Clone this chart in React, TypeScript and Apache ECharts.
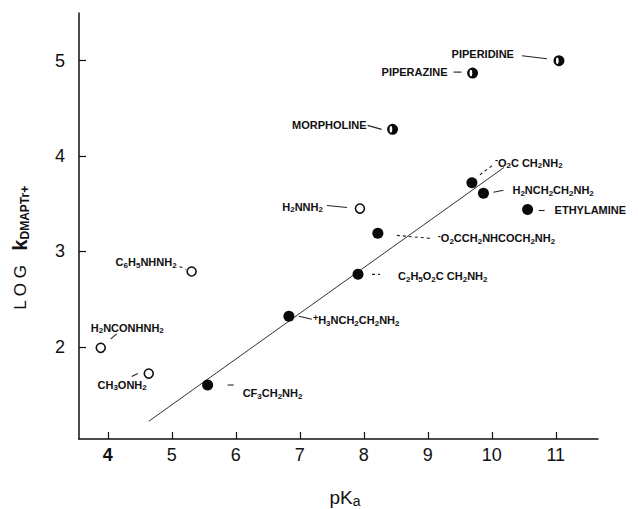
import React, { useEffect, useRef } from "react";
import * as echarts from "echarts";

// pKa of the amine / hydrazine
const pKa = [11.05, 9.7, 8.45, 9.69, 9.87, 10.56, 7.94, 8.22, 7.91, 6.83, 5.56, 5.31, 3.89, 4.64];
// log k(DMAPTr+)
const logK = [5.0, 4.87, 4.28, 3.72, 3.61, 3.44, 3.45, 3.19, 2.76, 2.32, 1.6, 2.79, 1.99, 1.72];
// marker kind: "half" secondary amines, "filled" primary amines, "open" alpha-effect nucleophiles
const kinds = ["half", "half", "half", "filled", "filled", "filled", "open", "filled", "filled", "filled", "filled", "open", "open", "open"];
const names = [
  "PIPERIDINE",
  "PIPERAZINE",
  "MORPHOLINE",
  "{sup|-}O{s|2}C CH{s|2}NH{s|2}",
  "H{s|2}NCH{s|2}CH{s|2}NH{s|2}",
  "ETHYLAMINE",
  "H{s|2}NNH{s|2}",
  "{sup|-}O{s|2}CCH{s|2}NHCOCH{s|2}NH{s|2}",
  "C{s|2}H{s|5}O{s|2}C CH{s|2}NH{s|2}",
  "{sup|+}H{s|3}NCH{s|2}CH{s|2}NH{s|2}",
  "CF{s|3}CH{s|2}NH{s|2}",
  "C{s|6}H{s|5}NHNH{s|2}",
  "H{s|2}NCONHNH{s|2}",
  "CH{s|3}ONH{s|2}",
];
// correlation line (amines)
const fitX = [4.64, 10.19];
const fitY = [1.22, 3.88];
// axis ticks
const xTicks = [4, 5, 6, 7, 8, 9, 10, 11];
const yTicks = [2, 3, 4, 5];

// label placement relative to the marker (pixels)
const labelDx = [-45, -25, -26, 23, 29, 27, -37, 60, 40, 24, 35, -15, -10, -2];
const labelDy = [-7, -1, -4, -20, -3, 1, -2, 5, 2, 4, 8, -9, -20, 11];
const labelAlign = ["right", "right", "right", "left", "left", "left", "right", "left", "left", "left", "left", "right", "left", "right"];
// leader segments relative to the marker (pixels): [x1, y1, x2, y2]
const leaders = [
  [-37, -5, -12, -2],
  [-19, -1, -11, -1],
  [-25, -4, -11, 0],
  [8, -8, 20, -17],
  [10, -1, 20, -3],
  [11, 1, 17, 1],
  [-33, -3, -13, -1],
  [19, 2, 52, 5],
  [14, 0, 22, 0],
  [10, 0, 23, 3],
  [20, 0, 26, 0],
  [-12, -5, -6, -2],
  [10, -9, 16, -14],
  [-17, 3, -11, 0],
];
const leaderDashed = [false, false, false, true, false, false, false, true, true, false, false, true, false, false];

const HALF =
  "path://M10 0A10 10 0 1 1 10 20A10 10 0 1 1 10 0ZM7 4A2.4 6 0 1 0 7 16A2.4 6 0 1 0 7 4Z";
const FONT = "Liberation Sans, Arial, sans-serif";

export default function App() {
  const ref = useRef<HTMLDivElement>(null);
  useEffect(() => {
    if (!ref.current) return;
    const chart = echarts.init(ref.current, null, { renderer: "svg" });
    const data = pKa.map((x, i) => {
      const k = kinds[i];
      return {
        value: [x, logK[i]],
        name: names[i],
        symbol: k === "half" ? HALF : "circle",
        symbolSize: k === "open" ? 9 : 11,
        itemStyle:
          k === "open"
            ? { color: "#fff", borderColor: "#111", borderWidth: 1.6, opacity: 1 }
            : { color: "#0a0a0a", borderWidth: 0, opacity: 1 },
      };
    });
    chart.setOption({
      animation: false,
      backgroundColor: "#fff",
      grid: { left: 79, right: 40, top: 13, bottom: 70 },
      xAxis: {
        type: "value",
        min: 3.55,
        max: 11.66,
        axisLine: { show: true, onZero: false, lineStyle: { color: "#111", width: 1.5 } },
        axisTick: { show: true, inside: true, length: 7, customValues: xTicks, lineStyle: { color: "#111", width: 1.2 } },
        axisLabel: {
          customValues: xTicks,
          margin: 7,
          fontSize: 18,
          color: "#111",
          fontFamily: FONT,
          formatter: (v: number) => (v === 4 ? "{b|4}" : String(v)),
          rich: { b: { fontSize: 18, fontWeight: "bold", color: "#111", fontFamily: FONT } },
        },
        splitLine: { show: false },
      },
      yAxis: {
        type: "value",
        min: 1.034,
        max: 5.5,
        axisLine: { show: true, onZero: false, lineStyle: { color: "#111", width: 1.5 } },
        axisTick: { show: true, inside: true, length: 7, customValues: yTicks, lineStyle: { color: "#111", width: 1.2 } },
        axisLabel: {
          customValues: yTicks,
          margin: 14,
          fontSize: 18,
          color: "#111",
          fontFamily: FONT,
        },
        splitLine: { show: false },
      },
      series: [
        {
          type: "line",
          data: fitX.map((x, i) => [x, fitY[i]]),
          symbol: "none",
          lineStyle: { color: "#333", width: 1 },
          z: 1,
          silent: true,
        },
        {
          type: "custom",
          data: pKa.map((x, i) => [x, logK[i]]),
          silent: true,
          z: 2,
          renderItem: (params: any, api: any) => {
            const i = params.dataIndex;
            const c = api.coord([api.value(0), api.value(1)]);
            const l = leaders[i];
            return {
              type: "line",
              shape: { x1: c[0] + l[0], y1: c[1] + l[1], x2: c[0] + l[2], y2: c[1] + l[3] },
              style: { stroke: "#222", lineWidth: 1.1, lineDash: leaderDashed[i] ? [3, 3] : null },
            };
          },
        },
        {
          type: "scatter",
          data,
          z: 3,
          label: {
            show: true,
            formatter: (p: any) => p.name,
            fontSize: 11,
            fontWeight: "bold",
            color: "#111",
            lineHeight: 14,
            fontFamily: FONT,
            rich: {
              s: { fontSize: 8, fontWeight: "bold", lineHeight: 8, verticalAlign: "bottom", color: "#111", fontFamily: FONT },
              sup: { fontSize: 9, fontWeight: "bold", lineHeight: 9, verticalAlign: "top", color: "#111", fontFamily: FONT },
            },
          },
          labelLayout: (p: any) => {
            const i = p.dataIndex;
            const cx = p.rect.x + p.rect.width / 2;
            const cy = p.rect.y + p.rect.height / 2;
            return { x: cx + labelDx[i], y: cy + labelDy[i], align: labelAlign[i], verticalAlign: "middle" };
          },
        },
      ],
      graphic: [
        {
          type: "text",
          x: 20,
          y: 248,
          rotation: Math.PI / 2,
          style: {
            text: "L O G   {k|k}{s|DMAPTr+}",
            fontSize: 17,
            fill: "#111",
            fontFamily: FONT,
            align: "center",
            verticalAlign: "middle",
            lineHeight: 22,
            rich: {
              k: { fontSize: 20, fontWeight: "bold", fill: "#111", lineHeight: 22, fontFamily: FONT },
              s: { fontSize: 12, fontWeight: "bold", fill: "#111", lineHeight: 12, verticalAlign: "bottom", fontFamily: FONT },
            },
          },
        },
        {
          type: "text",
          x: 345,
          y: 497,
          style: {
            text: "pK{s|a}",
            fontSize: 19,
            fill: "#111",
            fontFamily: FONT,
            align: "center",
            verticalAlign: "middle",
            lineHeight: 22,
            rich: { s: { fontSize: 14, fill: "#111", lineHeight: 14, verticalAlign: "bottom", fontFamily: FONT } },
          },
        },
      ],
    });
    return () => chart.dispose();
  }, []);
  return <div ref={ref} style={{ width: 638, height: 509, position: "absolute", left: 0, top: 0 }} />;
}
